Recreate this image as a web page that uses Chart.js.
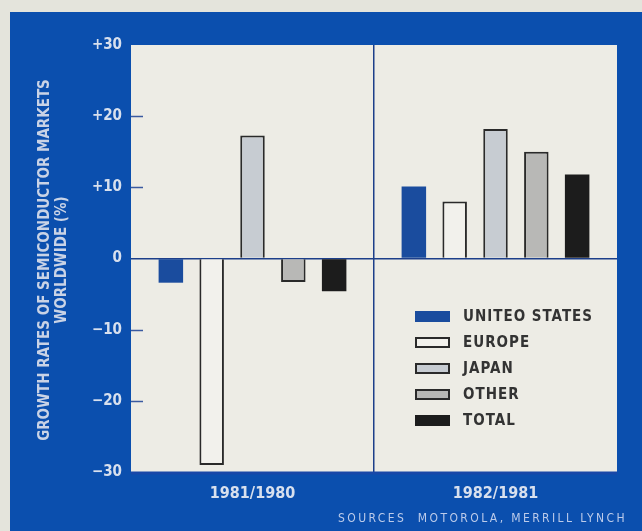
<!DOCTYPE html>
<html>
<head>
<meta charset="utf-8">
<script src="https://cdn.jsdelivr.net/npm/chart.js@4/dist/chart.umd.min.js"></script>
<style>
  html, body { margin: 0; padding: 0; background: #e4e4dc; }
  #wrap { width: 642px; height: 531px; position: relative; }
</style>
</head>
<body>
<div id="wrap"><canvas id="c" width="642" height="531"></canvas></div>
<script>
// growth rates (%)
var periods = ['1981/1980', '1982/1981'];
var unitedStates = [-3.4, 10.1];
var europe = [-29, 8];
var japan = [17.3, 18.2];
var other = [-3.3, 15];
var total = [-4.6, 11.8];
var yTicks = [-30, -20, -10, 0, 10, 20, 30];

var FONT = "'Liberation Sans Narrow', 'DejaVu Sans Condensed', sans-serif";
var BLUE = '#0b4fae';
var PAPER = '#edece5';
var LINE = '#1d3f8a';

// frame, plot paper, divider, ticks, axis title, legend, source line
var decor = {
	id: 'decor',
	beforeDraw: function(chart) {
		var ctx = chart.ctx, a = chart.chartArea;
		ctx.save();
		ctx.fillStyle = '#e4e4dc';
		ctx.fillRect(0, 0, chart.width, chart.height);
		ctx.fillStyle = BLUE;
		ctx.fillRect(10, 12, chart.width - 10, chart.height - 12);
		ctx.fillStyle = PAPER;
		ctx.fillRect(a.left, a.top, a.right - a.left, a.bottom - a.top);
		ctx.restore();
	},
	afterDraw: function(chart) {
		var ctx = chart.ctx, a = chart.chartArea;
		var ys = chart.scales.y;
		ctx.save();
		// little tick dashes on the left edge
		ctx.strokeStyle = '#3a5aa0';
		ctx.lineWidth = 1.5;
		yTicks.forEach(function(v) {
			if (v === 30 || v === -30 || v === 0) return;
			var y = Math.round(ys.getPixelForValue(v)) + 0.5;
			ctx.beginPath(); ctx.moveTo(a.left, y); ctx.lineTo(a.left + 12, y); ctx.stroke();
		});
		// rim at bottom of plot
		ctx.strokeStyle = '#1848a8';
		ctx.lineWidth = 3;
		ctx.beginPath(); ctx.moveTo(a.left, a.bottom + 1); ctx.lineTo(a.right, a.bottom + 1); ctx.stroke();

		// axis title, rotated, two lines
		ctx.fillStyle = '#c9d3e6';
		ctx.font = 'bold 15px ' + FONT;
		ctx.textAlign = 'center';
		ctx.textBaseline = 'middle';
		ctx.translate(53, 260);
		ctx.rotate(-Math.PI / 2);
		ctx.fillText('GROWTH RATES OF SEMICONDUCTOR MARKETS', 0, -8);
		ctx.fillText('WORLDWIDE (%)', 0, 9);
		ctx.setTransform(1, 0, 0, 1, 0, 0);

		// legend
		var lx = 415, ly = 316, step = 26;
		chart.data.datasets.forEach(function(ds, i) {
			var y = ly + i * step;
			ctx.fillStyle = ds.backgroundColor;
			ctx.fillRect(lx, y - 5, 35, 11);
			if (ds.borderWidth) {
				ctx.strokeStyle = '#2a2a2a';
				ctx.lineWidth = 2;
				ctx.strokeRect(lx + 1, y - 4, 33, 9);
			}
			ctx.fillStyle = '#333333';
			ctx.font = 'bold 15px ' + FONT;
			ctx.textAlign = 'left';
			ctx.textBaseline = 'middle';
			ctx.letterSpacing = '1px';
			ctx.fillText(ds.label, lx + 48, y + 1);
		});

		// source line
		ctx.fillStyle = '#bccbea';
		ctx.font = '12px ' + FONT;
		ctx.letterSpacing = '2.4px';
		ctx.textAlign = 'right';
		ctx.textBaseline = 'middle';
		ctx.fillText('SOURCES  MOTOROLA, MERRILL LYNCH', 627, 519);
		ctx.restore();
	}
};

new Chart(document.getElementById('c'), {
	type: 'bar',
	data: {
		labels: periods,
		datasets: [
			{ label: 'UNITEO STATES', data: unitedStates, backgroundColor: '#1a4c9e', borderWidth: 0 },
			{ label: 'EUROPE', data: europe, backgroundColor: '#f2f1ec', borderColor: '#2a2a2a', borderWidth: 2 },
			{ label: 'JAPAN', data: japan, backgroundColor: '#c7ccd2', borderColor: '#2a2a2a', borderWidth: 2 },
			{ label: 'OTHER', data: other, backgroundColor: '#b8b8b6', borderColor: '#2a2a2a', borderWidth: 2 },
			{ label: 'TOTAL', data: total, backgroundColor: '#1c1c1c', borderWidth: 0 }
		]
	},
	options: {
		responsive: false,
		animation: false,
		layout: { padding: { left: 61, right: 25, top: 45, bottom: 0 } },
		categoryPercentage: 0.84,
		barPercentage: 0.6,
		plugins: { legend: { display: false }, tooltip: { enabled: false } },
		scales: {
			x: {
				grid: {
					offset: true,
					drawTicks: false,
					color: function(c) { return c.index === 1 ? LINE : 'rgba(0,0,0,0)'; },
					lineWidth: 1.5
				},
				border: { display: false },
				ticks: { color: '#d8e0ee', font: { family: FONT, size: 16, weight: 'bold' }, padding: 12 },
				afterFit: function(s) { s.height = 59; }
			},
			y: {
				min: -30, max: 30,
				afterBuildTicks: function(s) { s.ticks = yTicks.map(function(v) { return { value: v }; }); },
				grid: {
					drawTicks: false,
					color: function(c) { return c.tick && c.tick.value === 0 ? LINE : 'rgba(0,0,0,0)'; },
					lineWidth: 1.5
				},
				border: { display: false },
				ticks: {
					color: '#d8e0ee', padding: 9,
					font: { family: FONT, size: 15, weight: 'bold' },
					callback: function(v) { return v > 0 ? '+' + v : (v < 0 ? '\u2212' + Math.abs(v) : '0'); }
				},
				afterFit: function(s) { s.width = 70; }
			}
		}
	},
	plugins: [decor]
});
</script>
</body>
</html>
